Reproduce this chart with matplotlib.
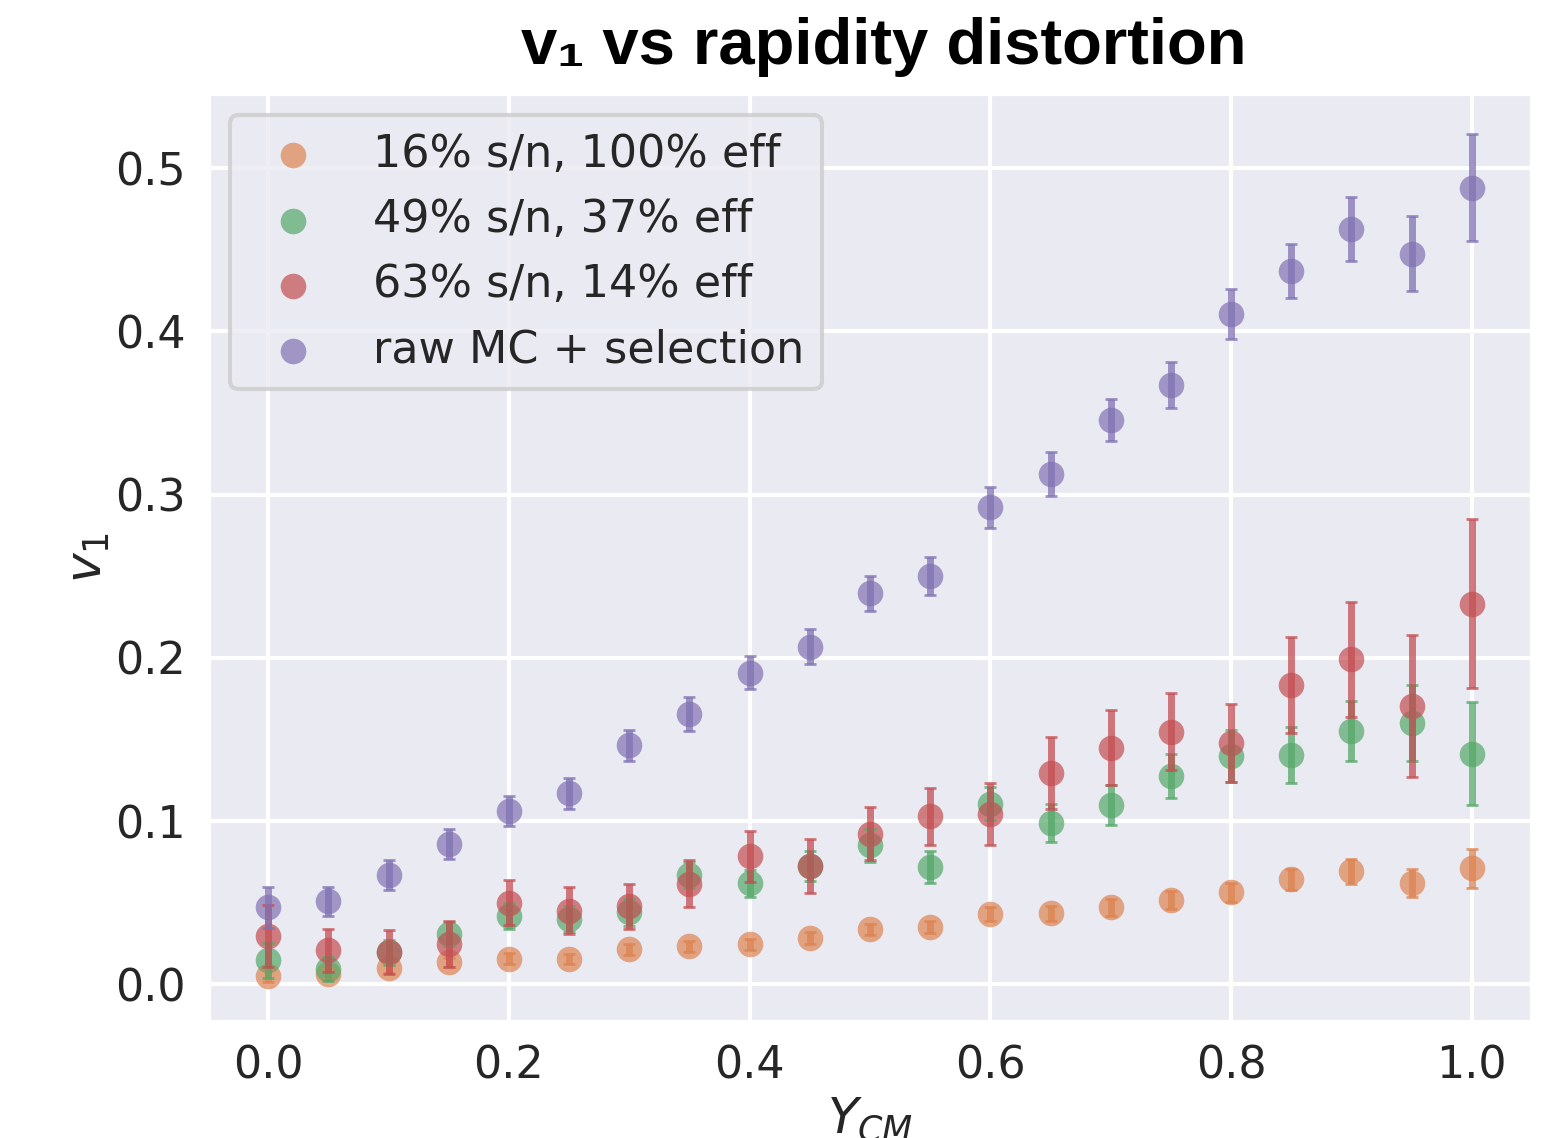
import matplotlib
matplotlib.use('Agg')
import matplotlib.pyplot as plt
import seaborn as sns

# rapidity bins (centre of mass)
y_cm = [0.00, 0.05, 0.10, 0.15, 0.20, 0.25, 0.30, 0.35, 0.40, 0.45, 0.50,
        0.55, 0.60, 0.65, 0.70, 0.75, 0.80, 0.85, 0.90, 0.95, 1.00]

# 16% s/n, 100% eff
v1_a = [0.0051, 0.0065, 0.0098, 0.0135, 0.0159, 0.0155, 0.0216, 0.0235, 0.0247, 0.0284, 0.0337,
        0.0351, 0.0433, 0.0435, 0.0472, 0.0515, 0.0564, 0.0643, 0.0692, 0.0619, 0.0711]
err_a = [0.0037, 0.0031, 0.0030, 0.0028, 0.0033, 0.0032, 0.0035, 0.0033, 0.0034, 0.0036, 0.0035,
         0.0038, 0.0042, 0.0046, 0.0052, 0.0055, 0.0058, 0.0064, 0.0074, 0.0086, 0.0120]

# 49% s/n, 37% eff
v1_b = [0.0147, 0.0096, 0.0198, 0.0310, 0.0419, 0.0400, 0.0442, 0.0670, 0.0620, 0.0725, 0.0854,
        0.0719, 0.1107, 0.0991, 0.1099, 0.1279, 0.1397, 0.1405, 0.1552, 0.1601, 0.1414]
err_b = [0.0106, 0.0072, 0.0077, 0.0074, 0.0077, 0.0079, 0.0083, 0.0080, 0.0083, 0.0091, 0.0101,
         0.0100, 0.0101, 0.0116, 0.0123, 0.0135, 0.0159, 0.0170, 0.0185, 0.0233, 0.0316]

# 63% s/n, 14% eff
v1_c = [0.0298, 0.0210, 0.0198, 0.0249, 0.0502, 0.0453, 0.0478, 0.0617, 0.0784, 0.0725, 0.0923,
        0.1029, 0.1043, 0.1297, 0.1450, 0.1548, 0.1479, 0.1834, 0.1993, 0.1708, 0.2333]
err_c = [0.0190, 0.0131, 0.0135, 0.0139, 0.0136, 0.0141, 0.0140, 0.0143, 0.0159, 0.0165, 0.0163,
         0.0177, 0.0190, 0.0220, 0.0229, 0.0236, 0.0241, 0.0294, 0.0352, 0.0435, 0.0518]

# raw MC + selection
v1_d = [0.0472, 0.0509, 0.0673, 0.0862, 0.1060, 0.1170, 0.1466, 0.1659, 0.1910, 0.2069, 0.2395,
        0.2500, 0.2922, 0.3127, 0.3456, 0.3673, 0.4108, 0.4368, 0.4627, 0.4475, 0.4881]
err_d = [0.0128, 0.0089, 0.0092, 0.0093, 0.0092, 0.0096, 0.0095, 0.0104, 0.0100, 0.0109, 0.0108,
         0.0116, 0.0124, 0.0134, 0.0127, 0.0141, 0.0153, 0.0164, 0.0196, 0.0230, 0.0328]

labels = ['16% s/n, 100% eff', '49% s/n, 37% eff', '63% s/n, 14% eff', 'raw MC + selection']
colors = ['#DD8452', '#55A868', '#C44E52', '#8172B3']

sns.set_theme(style='darkgrid', context='talk')

fig, ax = plt.subplots(figsize=(7.735, 5.69), dpi=200)
fig.subplots_adjust(left=0.1345, right=0.9903, top=0.9183, bottom=0.1019)

series = [(v1_a, err_a), (v1_b, err_b), (v1_c, err_c), (v1_d, err_d)]
for (vals, errs), col, lab in zip(series, colors, labels):
    ax.scatter(y_cm, vals, s=85, color=col, alpha=0.7, linewidths=0, label=lab)
    ax.errorbar(y_cm, vals, yerr=errs, fmt='none', ecolor=col, alpha=0.75,
                elinewidth=2.5, capsize=2, capthick=1.0)

ax.set_ylim(-0.023, 0.546)
ax.tick_params(labelsize=16, pad=-1)
ax.set_xlabel('$Y_{CM}$', fontsize=18, labelpad=3)
ax.set_ylabel('$v_1$', fontsize=18, labelpad=1)
ax.set_title('v\u2081 vs rapidity distortion', fontsize=23.5, fontweight='bold',
             family=['Liberation Sans', 'DejaVu Sans'], color='black', x=0.51, pad=10.5)
ax.legend(loc='upper left', fontsize=16)

fig.savefig('out.png', dpi=200)
